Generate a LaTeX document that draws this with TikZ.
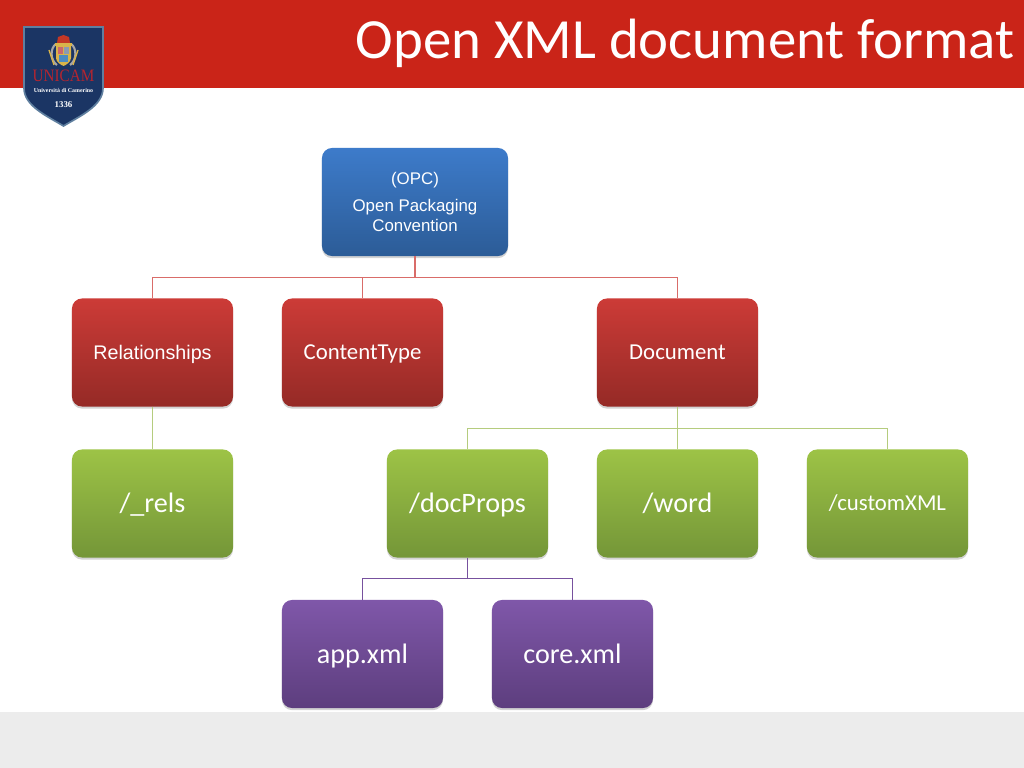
\documentclass[tikz,border=0pt]{standalone}
\usepackage{fontspec}
\setmainfont{Carlito}
\newfontfamily\arialfont{Liberation Sans}
\newfontfamily\timesfont{Liberation Serif}
\usetikzlibrary{shadows}
\definecolor{bandred}{HTML}{CA2418}
\definecolor{bandgray}{HTML}{ECECEC}
\definecolor{crestblue}{HTML}{1B3564}
\definecolor{crestedge}{HTML}{5F7F9F}
\definecolor{crestred}{HTML}{B5252F}
\definecolor{crestgold}{HTML}{D9B44A}
\definecolor{blueA}{HTML}{3D7BCA}
\definecolor{blueB}{HTML}{3A74BE}
\definecolor{blueC}{HTML}{2C5C97}
\definecolor{redA}{HTML}{CC3B37}
\definecolor{redB}{HTML}{C43935}
\definecolor{redC}{HTML}{952A26}
\definecolor{greenA}{HTML}{9DC346}
\definecolor{greenB}{HTML}{95BA42}
\definecolor{greenC}{HTML}{749638}
\definecolor{purpleA}{HTML}{7F57A9}
\definecolor{purpleB}{HTML}{77519E}
\definecolor{purpleC}{HTML}{5D3E7E}
\tikzset{
  box/.style={rounded corners=0.25cm, minimum width=4.025cm, minimum height=2.7cm, inner sep=2pt,
    align=center, text=white, drop shadow={shadow xshift=0pt, shadow yshift=-1.5pt, opacity=0.35}},
  bluebox/.style={box, top color=blueA, middle color=blueB, bottom color=blueC, minimum width=4.65cm},
  redbox/.style={box, top color=redA, middle color=redB, bottom color=redC},
  greenbox/.style={box, top color=greenA, middle color=greenB, bottom color=greenC},
  purplebox/.style={box, top color=purpleA, middle color=purpleB, bottom color=purpleC},
  bigtext/.style={font=\fontsize{20}{22}\selectfont, text height=14.8pt, text depth=1.6pt},
  smalltext/.style={font=\fontsize{16.2}{18}\selectfont, text height=12pt, text depth=2.2pt},
  redline/.style={draw=redA!75!white, line width=0.7pt},
  greenline/.style={draw=greenA!70!white!90!gray, line width=0.8pt},
  purpleline/.style={draw=purpleB, line width=0.7pt}
}
\begin{document}
\begin{tikzpicture}[x=0.025cm, y=-0.025cm]
        \useasboundingbox (0, 0) rectangle (1024, 768);

        % Bands
        \fill[bandred] (0, 0) rectangle (1024, 88);
        \fill[bandgray] (0, 712) rectangle (1024, 768);
        \node[text=white, font=\fontsize{40.4}{44}\selectfont, anchor=base east, inner sep=0pt] (title) at (1015, 59) {Open XML document format};

        % Logo
        \draw[crestedge, fill=crestblue, line width=1.2pt] (24, 27) -- (103, 27) -- (103, 88) .. controls (103, 106) and (80, 116) .. (63.5, 126) .. controls (47, 116) and (24, 106) .. (24, 88) -- cycle;
        \draw[gray!70, line width=1.5pt] (56, 44) .. controls (50, 48) and (50, 60) .. (57, 65);
        \draw[gray!70, line width=1.5pt] (71, 44) .. controls (77, 48) and (77, 60) .. (70, 65);
        \draw[crestgold, line width=1pt] (49, 50) -- (54, 65);
        \draw[crestgold, line width=1pt] (78, 50) -- (73, 65);
        \fill[crestred!80!orange] (58, 37) -- (63.5, 35) -- (69, 37) -- (70, 43) -- (57, 43) -- cycle;
        \fill[crestgold] (55, 43) rectangle (72, 46);
        \fill[crestgold] (56, 46) -- (71, 46) -- (71, 58) .. controls (71, 62) and (66, 65) .. (63.5, 66) .. controls (61, 65) and (56, 62) .. (56, 58) -- cycle;
        \fill[crestred!70!white] (58, 47) rectangle (63, 54);
        \fill[crestblue!50!white] (64, 47) rectangle (69, 54);
        \fill[blue!30!teal!70!white] (59, 55) rectangle (68, 62);
        \node[text=crestred, font=\timesfont\fontsize{12.4}{13}\selectfont, inner sep=0pt] (unicam) at (63.5, 75.5) {\scalebox{0.87}[1]{UNICAM}};
        \node[text=white, font=\timesfont\bfseries\fontsize{4.2}{5}\selectfont, inner sep=0pt] (univ) at (63.5, 90.5) {Università di Camerino};
        \node[text=white, font=\timesfont\bfseries\fontsize{6.3}{7}\selectfont, inner sep=0pt] (year) at (63.5, 105) {1336};

        % Nodes
        \node[bluebox, font=\arialfont\fontsize{12}{14.3}\selectfont] (opc) at (415, 202) {(OPC)\\[5pt]Open Packaging\\Convention};
        \node[redbox, smalltext, font=\arialfont\fontsize{14}{16}\selectfont] (rel) at (152.5, 352.5) {Relationships};
        \node[redbox, smalltext] (ctype) at (362.5, 352.5) {ContentType};
        \node[redbox, smalltext] (doc) at (677.5, 352.5) {Document};
        \node[greenbox, bigtext] (rels) at (152.5, 503.5) {/\_rels};
        \node[greenbox, bigtext] (docprops) at (467.5, 503.5) {/docProps};
        \node[greenbox, bigtext] (word) at (677.5, 503.5) {/word};
        \node[greenbox, smalltext] (custom) at (887.5, 503.5) {/customXML};
        \node[purplebox, bigtext] (app) at (362.5, 654) {app.xml};
        \node[purplebox, bigtext] (core) at (572.5, 654) {core.xml};

        % Arrows
        \draw[redline, line width=1.2pt] (opc.south) -- ++(0, 21);
        \draw[redline] (opc.south) -- ++(0, 21) -| (rel.north);
        \draw[redline] (opc.south) -- ++(0, 21) -| (ctype.north);
        \draw[redline] (opc.south) -- ++(0, 21) -| (doc.north);
        \draw[greenline] (rel.south) -- (rels.north);
        \draw[greenline] (doc.south) -- ++(0, 22) -| (docprops.north);
        \draw[greenline] (doc.south) -- (word.north);
        \draw[greenline] (doc.south) -- ++(0, 22) -| (custom.north);
        \draw[purpleline] (docprops.south) -- ++(0, 21) -| (app.north);
        \draw[purpleline] (docprops.south) -- ++(0, 21) -| (core.north);

    \end{tikzpicture}
\end{document}
